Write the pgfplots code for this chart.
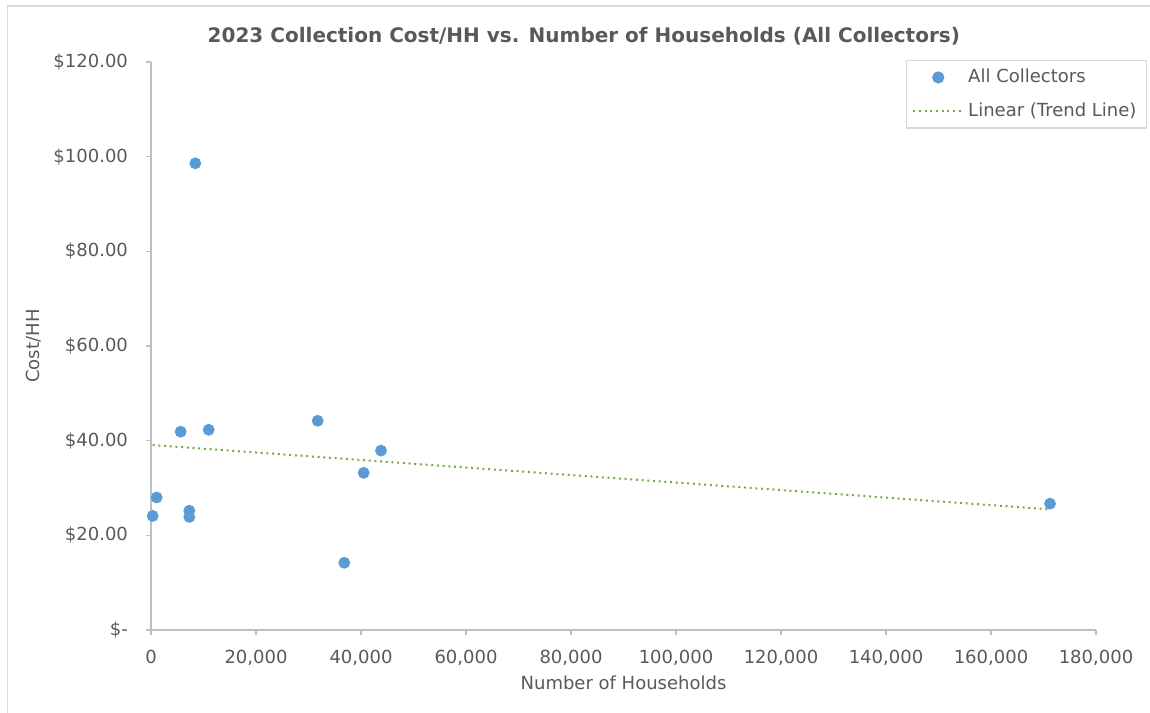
\documentclass[border=0pt]{standalone}
\usepackage{pgfplots}
\pgfplotsset{compat=1.18}
\usepackage{fontspec}
\setmainfont{DejaVu Sans}

\definecolor{ptblue}{HTML}{5B9BD5}
\definecolor{trendgreen}{HTML}{70AD47}
\definecolor{txtgrey}{HTML}{595959}
\definecolor{axgrey}{HTML}{BFBFBF}
\definecolor{boxgrey}{HTML}{D9D9D9}

\begin{document}
\begin{tikzpicture}
\useasboundingbox (0pt,0pt) rectangle (575pt,-356pt);
% chart area frame
\draw[boxgrey, line width=0.75pt] (3.75pt,-400pt) |- (600pt,-3pt);
\begin{axis}[
  at={(75.5pt,-315pt)}, anchor=south west,
  scale only axis, width=472.5pt, height=284pt,
  xmin=0, xmax=180000, ymin=0, ymax=120,
  axis x line=bottom, axis y line=left,
  axis line style={axgrey, line width=0.6pt, -},
  tick style={axgrey, line width=0.6pt},
  tick align=outside, major tick length=2.5pt,
  xtick={0,20000,40000,60000,80000,100000,120000,140000,160000,180000},
  xticklabels={0,{20,000},{40,000},{60,000},{80,000},{100,000},{120,000},{140,000},{160,000},{180,000}},
  ytick={0,20,40,60,80,100,120},
  yticklabels={\$-,\$20.00,\$40.00,\$60.00,\$80.00,\$100.00,\$120.00},
  scaled x ticks=false,
  /pgf/number format/assume math mode=true,
  ticklabel style={font=\fontsize{9}{11}\selectfont, text=txtgrey},
  xticklabel style={yshift=-4pt},
  yticklabel style={xshift=-5.5pt},
  label style={font=\fontsize{9}{11}\selectfont, text=txtgrey},
  xlabel={Number of Households},
  ylabel={Cost/HH},
  xlabel style={at={(axis description cs:0.5,-0.0933)}, anchor=center},
  ylabel style={at={(axis description cs:-0.1238,0.5)}, anchor=center},
  title={2023 Collection Cost/HH vs. Number of Households (All Collectors)},
  title style={at={(axis description cs:0.458,1.0246)}, anchor=center,
    font=\bfseries\fontsize{10}{12}\selectfont, text=txtgrey},
  legend image code/.code={%
    \draw[mark repeat=2, mark phase=2, #1]
      plot coordinates {(0pt,0pt) (12.5pt,0pt) (25pt,0pt)};},
  legend style={at={(axis description cs:1.054,1.0035)}, anchor=north east,
    draw=boxgrey, line width=0.6pt, fill=white, text=txtgrey,
    font=\fontsize{9}{11}\selectfont, inner xsep=3pt, inner ysep=2.25pt,
    row sep=4.5pt},
  legend cell align=left,
  clip=false,
]
% households vs collection cost per household
\addplot[only marks, mark=*, mark size=2.75pt,
  mark options={fill=ptblue, draw=ptblue}] coordinates {
  (320,24.1) (1080,28.0) (5650,41.9) (7300,25.2) (7300,23.9)
  (8440,98.6) (10990,42.3) (31750,44.2) (36820,14.2)
  (40510,33.2) (43810,37.9) (171240,26.7)
};
\addlegendentry{All Collectors}
% least-squares trend line
\addplot[trendgreen, line width=1pt, dash pattern=on 1pt off 1.85pt] coordinates {
  (320,39.07) (171240,25.49)
};
\addlegendentry{Linear (Trend Line)}
\end{axis}
\end{tikzpicture}
\end{document}
